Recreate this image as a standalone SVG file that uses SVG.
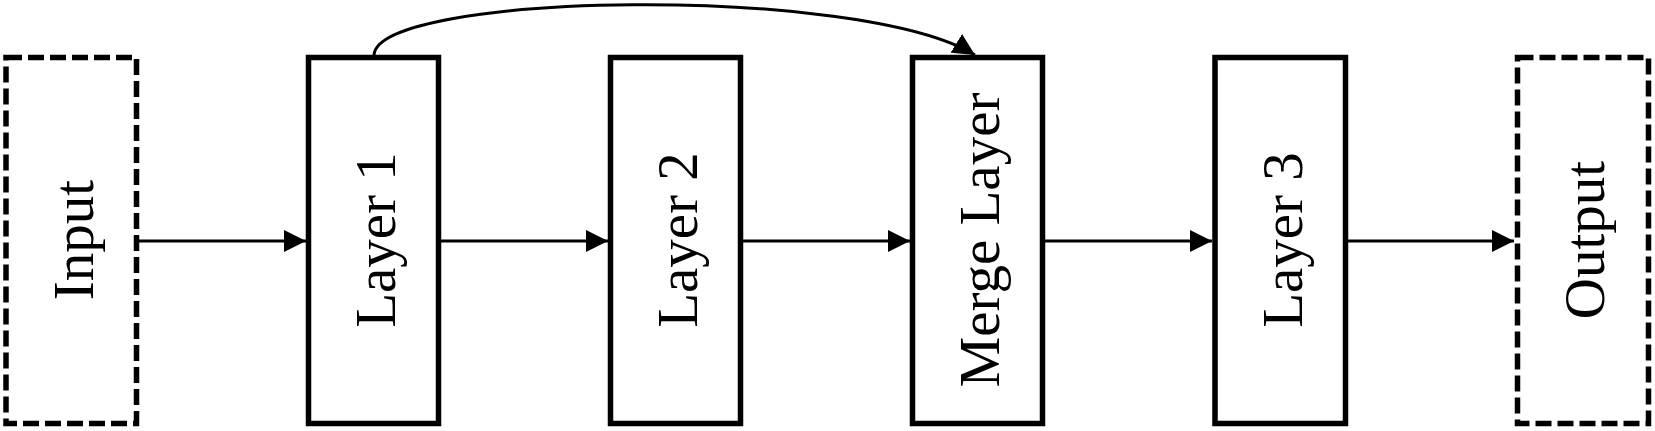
<svg xmlns="http://www.w3.org/2000/svg" width="1655" height="431" viewBox="0 0 1655 431">
<defs>
<style>
.box{fill:#fff;stroke:#000;stroke-width:5.5}
.dash{stroke-dasharray:16 6}
.lbl{font-family:"Liberation Serif","Times New Roman",serif;font-size:57px;fill:#000;text-anchor:middle}
.edge{fill:none;stroke:#000;stroke-width:3}
</style>
<marker id="ah" markerUnits="userSpaceOnUse" markerWidth="22" markerHeight="22" viewBox="0 0 20 20" refX="20" refY="10" orient="auto">
<path d="M0,0 L20,10 L0,20 Z" fill="#000"/>
</marker>
</defs>
<g id="connectors">
<line class="edge" x1="139" y1="241" x2="306" y2="241" marker-end="url(#ah)"/>
<line class="edge" x1="441" y1="241" x2="608" y2="241" marker-end="url(#ah)"/>
<line class="edge" x1="743" y1="241" x2="910" y2="241" marker-end="url(#ah)"/>
<line class="edge" x1="1045" y1="241" x2="1212" y2="241" marker-end="url(#ah)"/>
<line class="edge" x1="1347" y1="241" x2="1514" y2="241" marker-end="url(#ah)"/>
<path class="edge" d="M374,55 C378,-8 860,-16 975,55" marker-end="url(#ah)"/>
</g>
<g id="input">
<rect class="box dash" x="6" y="57.5" width="130.5" height="366"/>
<text class="lbl" transform="translate(93,240) rotate(-90)">Input</text>
</g>
<g id="layer1">
<rect class="box" x="308.5" y="57.5" width="130" height="366"/>
<text class="lbl" transform="translate(395,240) rotate(-90)">Layer 1</text>
</g>
<g id="layer2">
<rect class="box" x="610.5" y="57.5" width="130" height="366"/>
<text class="lbl" transform="translate(697,240) rotate(-90)">Layer 2</text>
</g>
<g id="merge">
<rect class="box" x="912.5" y="57.5" width="130" height="366"/>
<text class="lbl" transform="translate(999,240) rotate(-90)">Merge Layer</text>
</g>
<g id="layer3">
<rect class="box" x="1215" y="57.5" width="130.5" height="366"/>
<text class="lbl" transform="translate(1302,240) rotate(-90)">Layer 3</text>
</g>
<g id="output">
<rect class="box dash" x="1517.5" y="57.5" width="131" height="366"/>
<text class="lbl" transform="translate(1604,240) rotate(-90)">Output</text>
</g>
</svg>
